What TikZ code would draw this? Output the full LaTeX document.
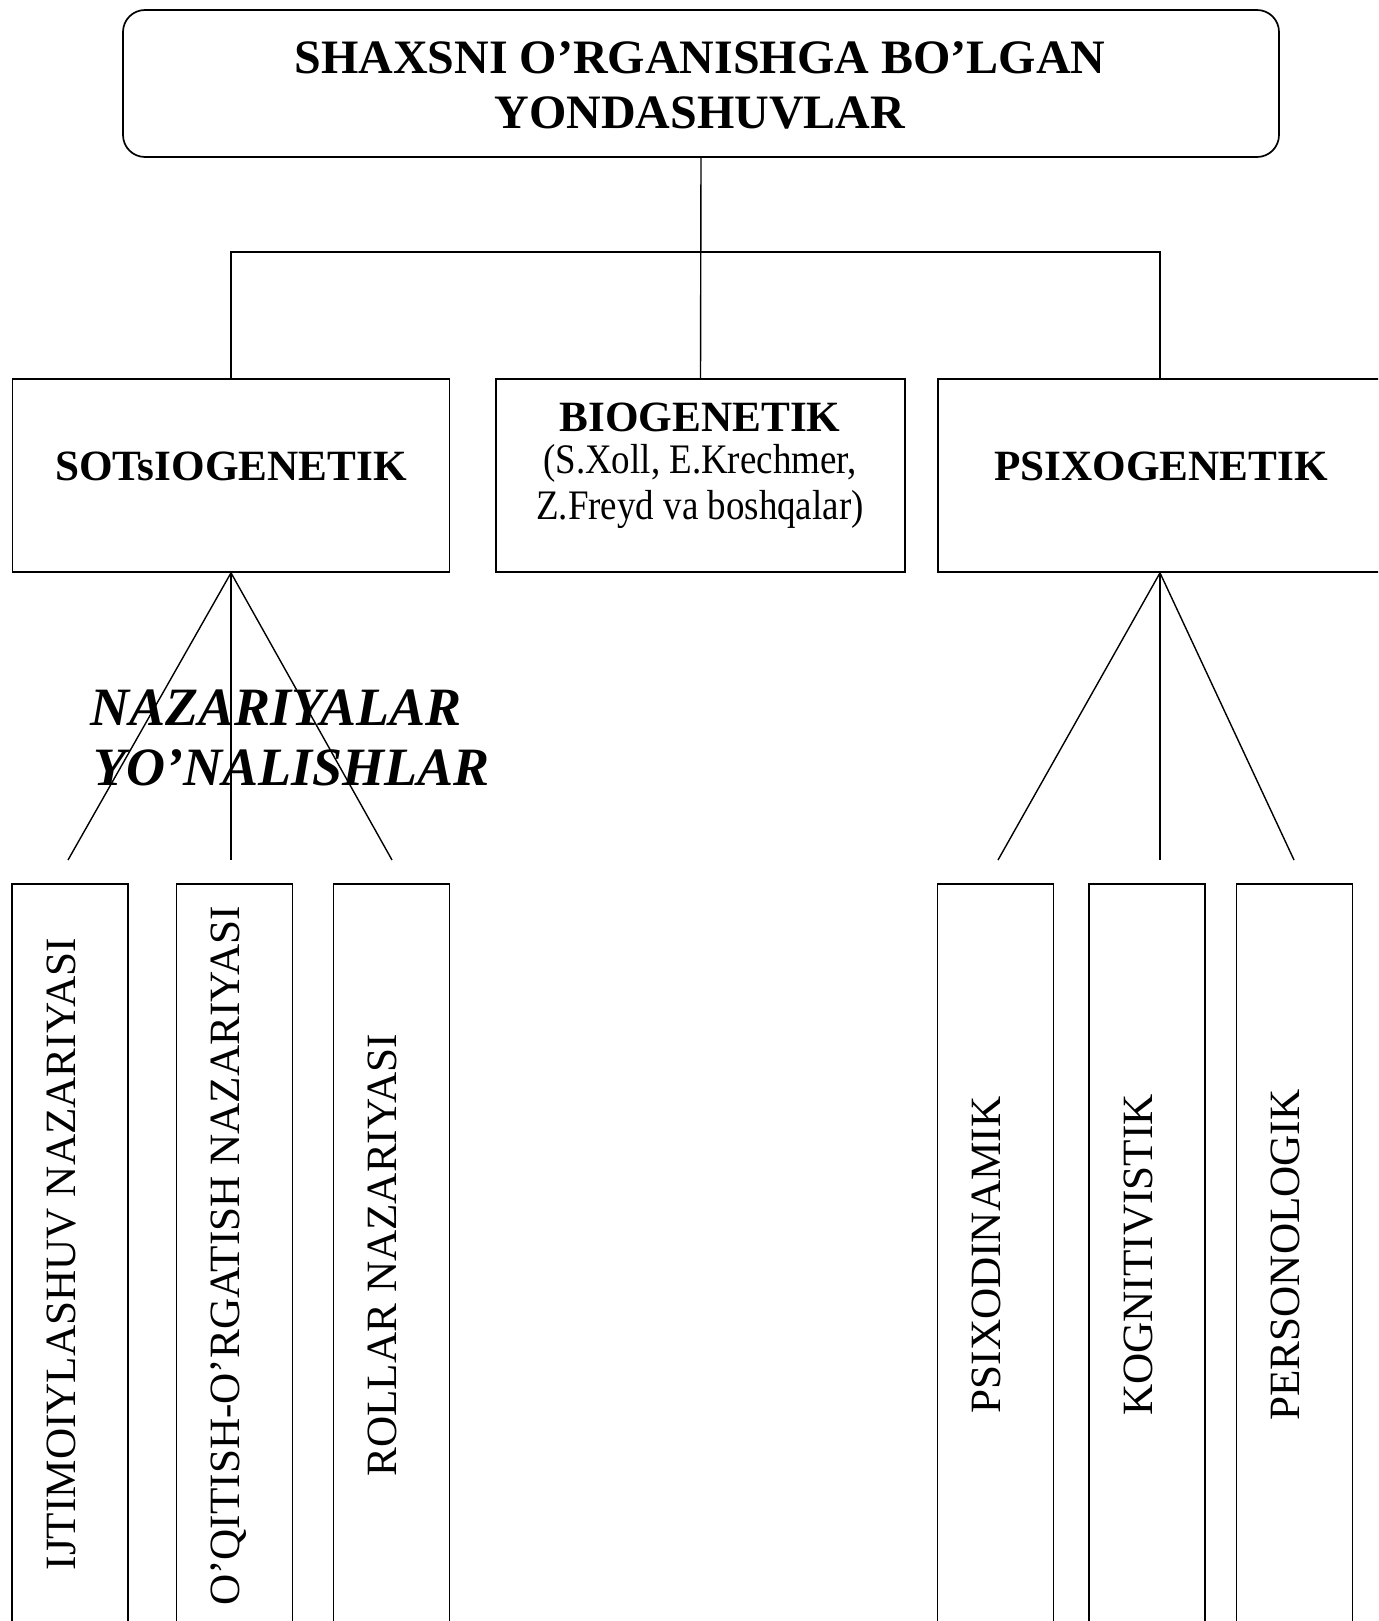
\documentclass[tikz,border=0pt]{standalone}
\usepackage{fontspec}
\setmainfont{Liberation Serif}
\newfontfamily\condfont[FakeStretch=0.88]{Liberation Serif}
\begin{document}
\begin{tikzpicture}[x=1pt,y=-1pt,
  box/.style={draw, line width=1.7pt, inner sep=0pt},
  conn/.style={line width=1.4pt},
  ttl/.style={font=\fontsize{48}{55}\selectfont\bfseries, anchor=base, inner sep=0pt},
  hd/.style={font=\fontsize{43.2}{48}\selectfont\bfseries, anchor=base, inner sep=0pt},
  subt/.style={font=\condfont\fontsize{42}{46}\selectfont, anchor=base, inner sep=0pt},
  nz/.style={font=\fontsize{54}{60}\selectfont\bfseries\itshape, anchor=base west, inner sep=0pt},
  vt/.style={font=\fontsize{43.2}{48}\selectfont, anchor=base, rotate=90, inner sep=0pt},
  tall/.style={box, minimum width=116pt, minimum height=766pt},
]
\useasboundingbox (0,0) rectangle (1378,1621);
\clip (0,0) rectangle (1378,1621);
\fill[white] (0,0) rectangle (1378,1621);

% top box
\node[box, rounded corners=22pt, minimum width=1156pt, minimum height=147pt] (top) at (701,83.5) {};
\node[ttl] (t1) at (700,74) {SHAXSNI O’RGANISHGA BO’LGAN};
\node[ttl] (t2) at (700,129) {YONDASHUVLAR};

% middle boxes
\node[box, minimum width=437pt, minimum height=193pt] (sots) at (231,475.5) {};
\node[box, minimum width=409pt, minimum height=193pt] (bio) at (700.5,475.5) {};
\node[box, minimum width=444pt, minimum height=193pt] (psixo) at (1160,475.5) {};

\node[hd] (sotsl) at (231,480.5) {SOTsIOGENETIK};
\node[hd] (psixol) at (1161,480.5) {PSIXOGENETIK};
\node[hd] (biol1) at (700,431.5) {BIOGENETIK};
\node[subt] (biol2) at (700,473.5) {(S.Xoll, E.Krechmer,};
\node[subt] (biol3) at (700,519) {Z.Freyd va boshqalar)};

% connectors from top
\coordinate (bar) at (700,252);
\draw[conn] (top.south) -- (bio.north);
\draw[conn] (sots.north) |- (bar) -| (psixo.north);

% fans
\coordinate (fa) at (68,860);
\coordinate (fb) at (231,860);
\coordinate (fc) at (392,860);
\coordinate (ga) at (998,860);
\coordinate (gb) at (1160,860);
\coordinate (gc) at (1294,860);
\draw[conn] (sots.south) -- (fa);
\draw[conn] (sots.south) -- (fb);
\draw[conn] (sots.south) -- (fc);
\draw[conn] (psixo.south) -- (ga);
\draw[conn] (psixo.south) -- (gb);
\draw[conn] (psixo.south) -- (gc);

\node[nz] (nz1) at (90,725) {NAZARIYALAR};
\node[nz] (nz2) at (93,785) {YO’NALISHLAR};

% bottom boxes
\node[tall] (b1) at (70,1267) {};
\node[tall] (b2) at (234.5,1267) {};
\node[tall] (b3) at (391.5,1267) {};
\node[tall] (b4) at (995.5,1267) {};
\node[tall] (b5) at (1147,1267) {};
\node[tall] (b6) at (1294.5,1267) {};

\node[vt] (l1) at (75,1254) {IJTIMOIYLASHUV NAZARIYASI};
\node[vt] (l2) at (239,1256) {O’QITISH-O’RGATISH NAZARIYASI};
\node[vt] (l3) at (396,1255) {ROLLAR NAZARIYASI};
\node[vt] (l4) at (1000,1255) {PSIXODINAMIK};
\node[vt] (l5) at (1152,1255) {KOGNITIVISTIK};
\node[vt] (l6) at (1299,1255) {PERSONOLOGIK};
\end{tikzpicture}
\end{document}
